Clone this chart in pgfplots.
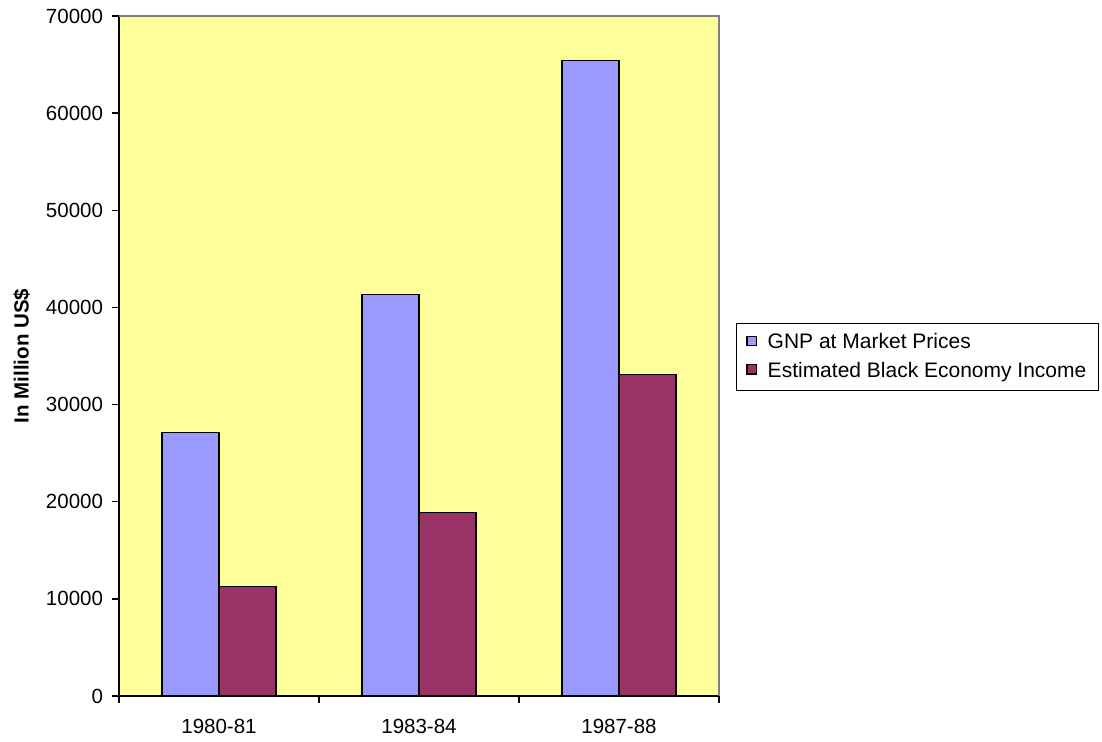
\documentclass[border=0pt]{standalone}
\usepackage{fontspec}
\setmainfont{Liberation Sans}
\usepackage{pgfplots}
\pgfplotsset{compat=1.18}
\definecolor{bgyellow}{HTML}{FFFF99}
\definecolor{gnpblue}{HTML}{9999FF}
\definecolor{blackmaroon}{HTML}{993366}
\begin{document}
\fontsize{20.5bp}{24bp}\selectfont
\begin{tikzpicture}
\begin{axis}[
  scale only axis,
  width=600bp, height=680bp,
  xmin=-0.5, xmax=2.5,
  ymin=0, ymax=70000,
  axis x line*=bottom, axis y line*=left,
  axis line style={black, line width=1.3bp},
  axis background/.style={fill=bgyellow},
  xtick={0,1,2},
  xticklabels={1980-81,1983-84,1987-88},
  major x tick style={draw=none},
  minor xtick={-0.5,0.5,1.5,2.5},
  minor x tick style={black, line width=1.3bp},
  minor tick length=7bp,
  ytick={0,10000,...,70000},
  y tick style={black, line width=1.3bp},
  major tick length=7bp,
  tick align=outside,
  scaled y ticks=false,
  /pgf/number format/assume math mode=true,
  yticklabel={\pgfmathprintnumber[fixed,1000 sep={}]{\tick}},
  tick label style={font=\fontsize{20.5bp}{24bp}\selectfont},
  xticklabel style={yshift=-9bp},
  yticklabel style={xshift=-2bp},
  ylabel={\bfseries In Million US\$},
  ylabel style={at={(axis description cs:-0.162,0.5)}, anchor=center, font=\fontsize{20.5bp}{24bp}\selectfont},
  bar width=0.285,
  legend style={at={(rel axis cs:1.028,0.5485)}, anchor=north west, draw=black, line width=1.3bp, fill=white,
     font=\fontsize{21bp}{25bp}\selectfont, row sep=6bp, inner xsep=10bp, inner ysep=8bp},
  legend cell align=left,
  legend image code/.code={\draw[#1, draw=black, line width=1.3bp] (0bp,-3bp) rectangle (9.5bp,6.5bp); \path (18bp,0bp);},
  clip=false,
]
\addplot[ybar, bar shift=-0.1425, fill=gnpblue, draw=black, line width=1.3bp]
  coordinates {(0,27100) (1,41300) (2,65400)};
\addlegendentry{GNP at Market Prices}
\addplot[ybar, bar shift=0.1425, fill=blackmaroon, draw=black, line width=1.3bp]
  coordinates {(0,11300) (1,18900) (2,33100)};
\addlegendentry{Estimated Black Economy Income}
\draw[gray, line width=1.3bp] (rel axis cs:0,1) -- (rel axis cs:1,1) -- (rel axis cs:1,0);
\end{axis}
\pgfresetboundingbox
\path[use as bounding box] (current axis.south west) ++(-119bp,-46bp) rectangle ++(1102bp,742bp);
\end{tikzpicture}
\end{document}
